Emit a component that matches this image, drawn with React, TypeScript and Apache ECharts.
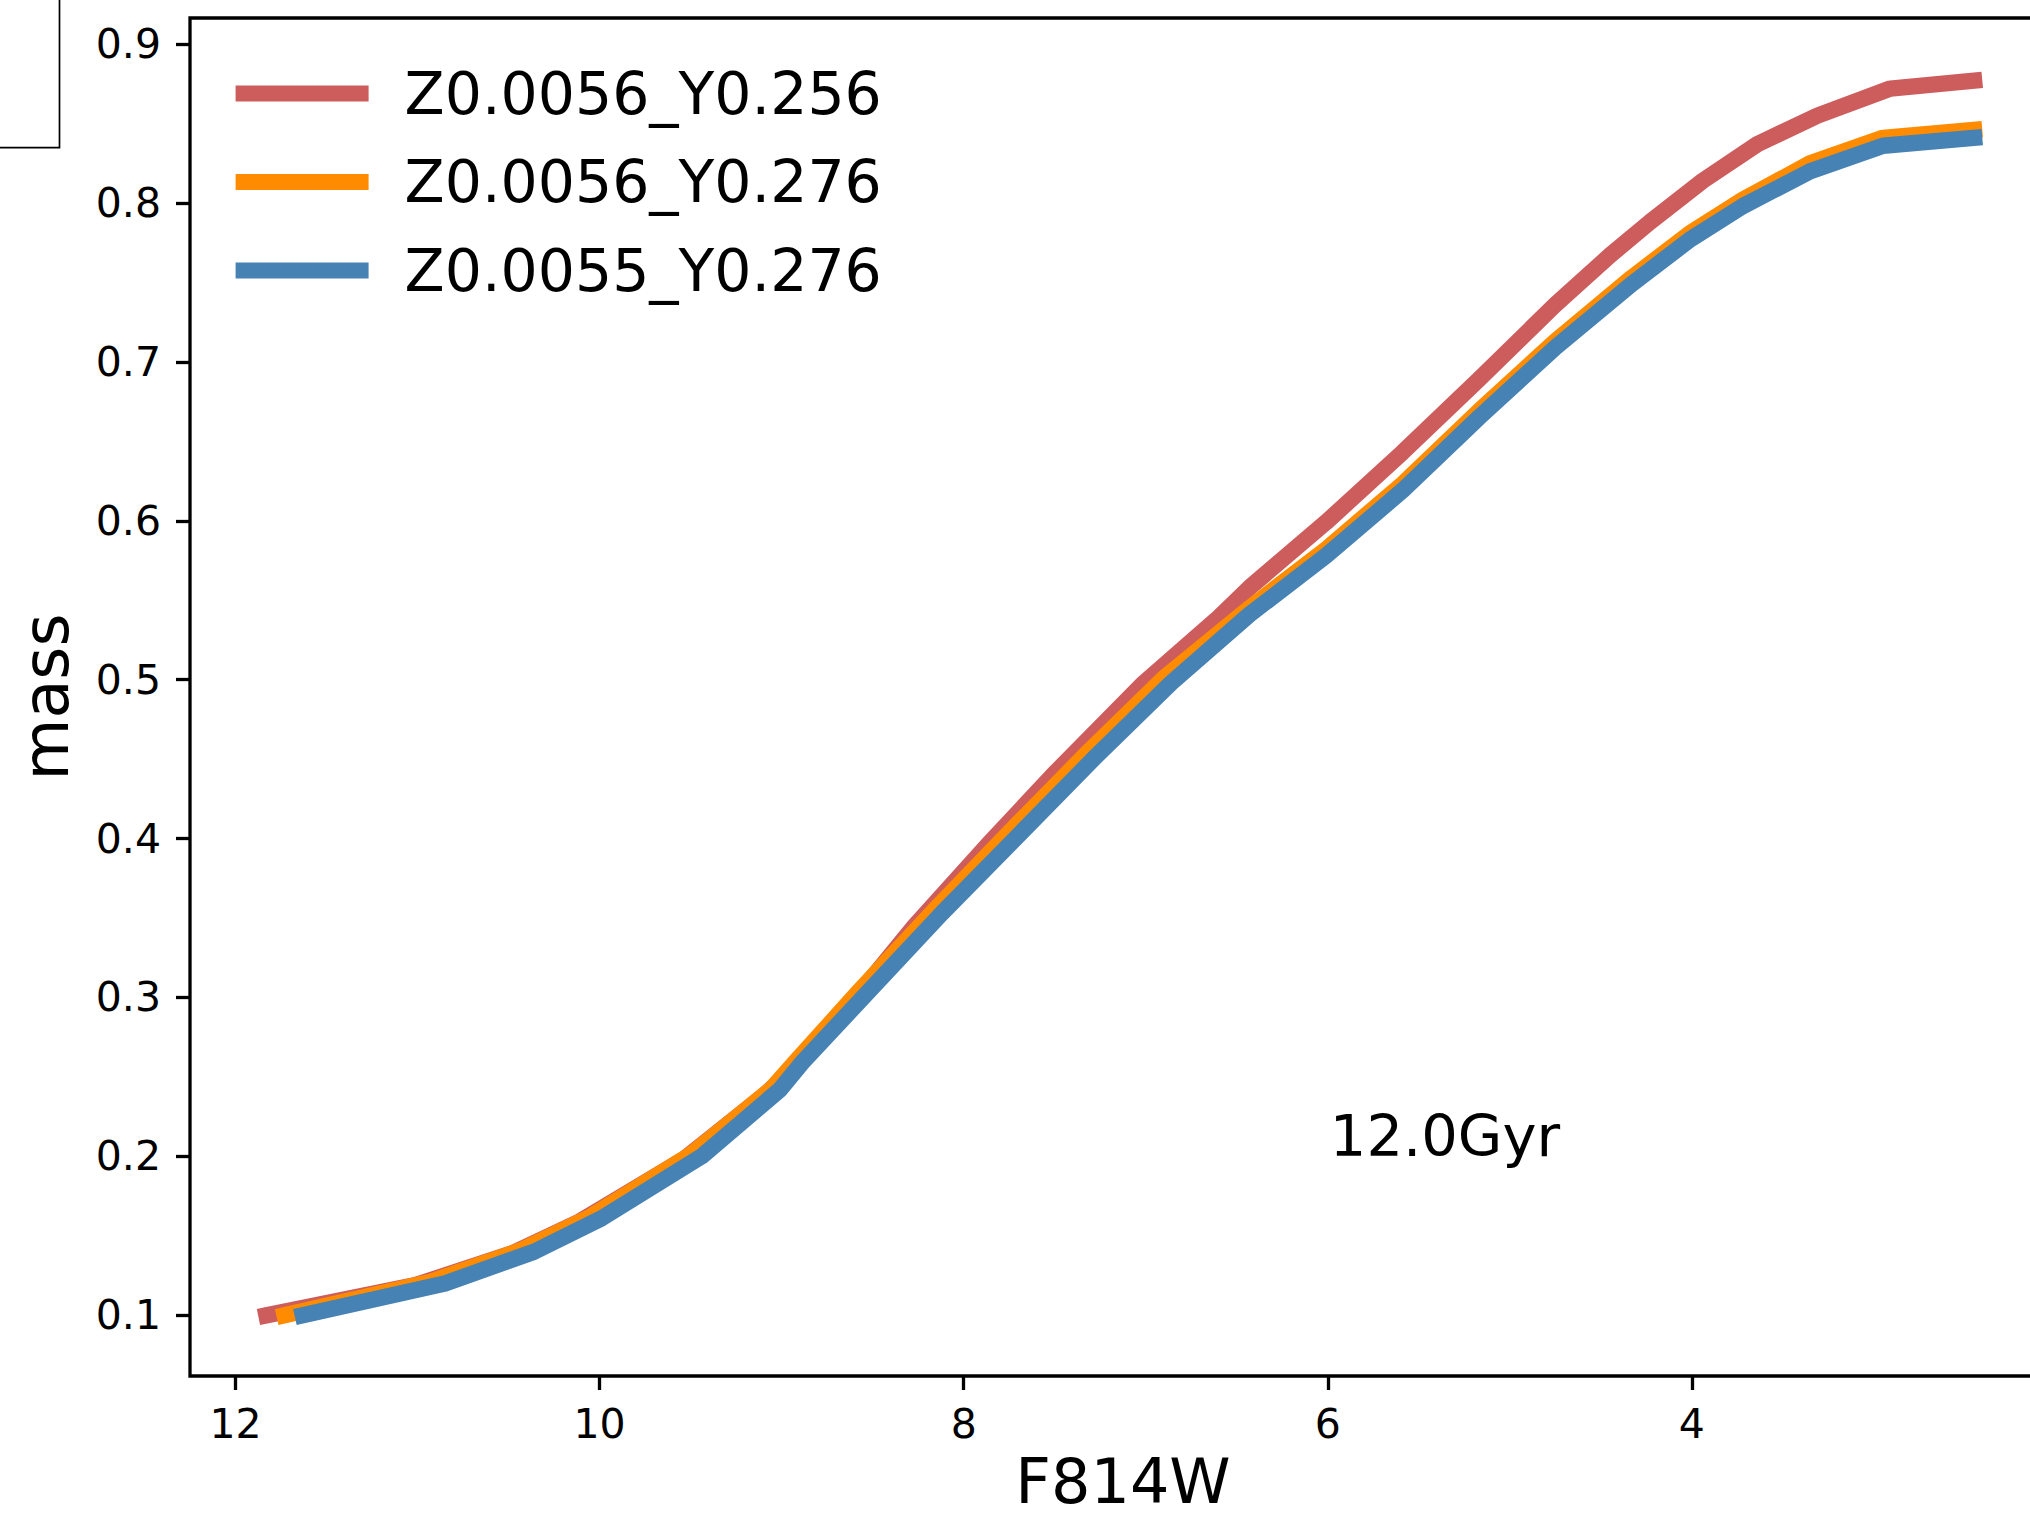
import React, { useEffect, useRef } from "react";
import * as echarts from "echarts";

// ---- data ----
const seriesNames = ["Z0.0056_Y0.256", "Z0.0056_Y0.276", "Z0.0055_Y0.276"];
const seriesColors = ["#CD5C5C", "#FF8C00", "#4682B4"];

const magRed = [11.83, 11.01, 10.48, 10.11, 9.54, 9.10, 8.85, 8.57, 8.27, 7.86, 7.51, 7.01, 6.61, 6.43, 6.01, 5.59, 5.17, 4.75, 4.45, 4.23, 3.94, 3.64, 3.31, 2.91, 2.45];
const massRed = [0.100, 0.119, 0.139, 0.159, 0.198, 0.238, 0.264, 0.303, 0.345, 0.397, 0.440, 0.498, 0.538, 0.558, 0.599, 0.643, 0.689, 0.736, 0.767, 0.788, 0.814, 0.837, 0.855, 0.872, 0.877];

const magOrange = [11.73, 10.93, 10.43, 10.05, 9.50, 9.06, 8.92, 8.59, 8.16, 7.74, 7.32, 6.90, 6.43, 6.01, 5.59, 5.17, 4.75, 4.33, 4.01, 3.72, 3.35, 2.95, 2.45];
const massOrange = [0.100, 0.121, 0.141, 0.162, 0.201, 0.242, 0.260, 0.302, 0.355, 0.405, 0.454, 0.501, 0.545, 0.582, 0.623, 0.669, 0.713, 0.753, 0.781, 0.802, 0.825, 0.841, 0.846];

const magBlue = [11.63, 10.85, 10.36, 9.99, 9.44, 9.01, 8.88, 8.545, 8.12, 7.70, 7.28, 6.86, 6.43, 6.01, 5.59, 5.17, 4.75, 4.33, 4.01, 3.72, 3.35, 2.95, 2.45];
const massBlue = [0.100, 0.120, 0.140, 0.161, 0.200, 0.242, 0.260, 0.301, 0.353, 0.402, 0.451, 0.498, 0.541, 0.578, 0.619, 0.665, 0.709, 0.749, 0.777, 0.798, 0.820, 0.836, 0.841];

const xTickValues = [4, 6, 8, 10, 12];
const yTickValues = [0.1, 0.2, 0.3, 0.4, 0.5, 0.6, 0.7, 0.8, 0.9];
const xAxisName = "F814W";
const yAxisName = "mass";
const ageLabel = "12.0Gyr";
const agePos = [6.0, 0.2];

const FONT = "DejaVu Sans";

function zip(xs: number[], ys: number[]) {
  return xs.map((x, i) => [x, ys[i]]);
}

export default function App() {
  const ref = useRef<HTMLDivElement>(null);

  useEffect(() => {
    const el = ref.current!;
    const chart = echarts.init(el, null, { renderer: "svg" });
    const allData = [zip(magRed, massRed), zip(magOrange, massOrange), zip(magBlue, massBlue)];

    chart.setOption({
      animation: false,
      backgroundColor: "#ffffff",
      grid: {
        left: 190,
        top: 18,
        right: -26,
        bottom: 143,
        containLabel: false,
        outerBoundsMode: "none",
        show: true,
        borderColor: "#000",
        borderWidth: 3.3,
        backgroundColor: "transparent",
      },
      legend: {
        orient: "vertical",
        left: 235.6,
        top: 64,
        padding: 0,
        itemWidth: 133,
        itemHeight: 16,
        itemGap: 29.5,
        icon: "rect",
        data: seriesNames,
        textStyle: {
          fontFamily: FONT,
          fontSize: 58.5,
          color: "#000",
          lineHeight: 58,
          padding: [0, 0, 0, 31],
        },
        selectedMode: false,
      },
      xAxis: {
        type: "value",
        inverse: true,
        min: 2.0,
        max: 12.25,
        name: xAxisName,
        nameLocation: "middle",
        nameGap: 85,
        nameTextStyle: { fontFamily: FONT, fontSize: 62, color: "#000", lineHeight: 40 },
        axisLine: { show: false },
        splitLine: { show: false },
        axisTick: {
          show: true,
          length: 14,
          inside: false,
          lineStyle: { color: "#000", width: 3.3 },
          customValues: xTickValues,
        },
        axisLabel: {
          fontFamily: FONT,
          fontSize: 41,
          color: "#000",
          margin: 27,
          customValues: xTickValues,
          formatter: (v: number) => String(v),
        },
      },
      yAxis: {
        type: "value",
        min: 0.0618,
        max: 0.9164,
        name: yAxisName,
        nameLocation: "middle",
        nameGap: 112,
        nameTextStyle: { fontFamily: FONT, fontSize: 63.5, color: "#000" },
        axisLine: { show: false },
        splitLine: { show: false },
        axisTick: {
          show: true,
          length: 14,
          inside: false,
          lineStyle: { color: "#000", width: 3.3 },
          customValues: yTickValues,
        },
        axisLabel: {
          fontFamily: FONT,
          fontSize: 41,
          color: "#000",
          margin: 29,
          customValues: yTickValues,
          formatter: (v: number) => v.toFixed(1),
        },
      },
      series: seriesNames.map((name, i) => ({
        name,
        type: "line",
        data: allData[i],
        showSymbol: false,
        symbol: "none",
        color: seriesColors[i],
        itemStyle: { color: seriesColors[i] },
        lineStyle: { color: seriesColors[i], width: 16.4, cap: "square", join: "round" },
        emphasis: { disabled: true },
        z: 2 + i,
      })),
    });

    const p = chart.convertToPixel({ gridIndex: 0 }, agePos) as number[];
    chart.setOption({
      graphic: [
        {
          type: "text",
          x: p[0] + 2,
          y: p[1] - 20,
          style: {
            text: ageLabel,
            font: `57.5px "${FONT}"`,
            fill: "#000",
            align: "left",
            verticalAlign: "middle",
          },
          z: 10,
        },
        {
          type: "polyline",
          shape: { points: [[59.5, -3], [59.5, 147.6], [-3, 147.6]] },
          style: { stroke: "#000", lineWidth: 1.7, fill: "none" },
          z: 10,
        },
      ],
    });

    return () => chart.dispose();
  }, []);

  return (
    <div
      ref={ref}
      style={{ position: "absolute", left: 0, top: 0, width: 2030, height: 1519, background: "#fff" }}
    />
  );
}
